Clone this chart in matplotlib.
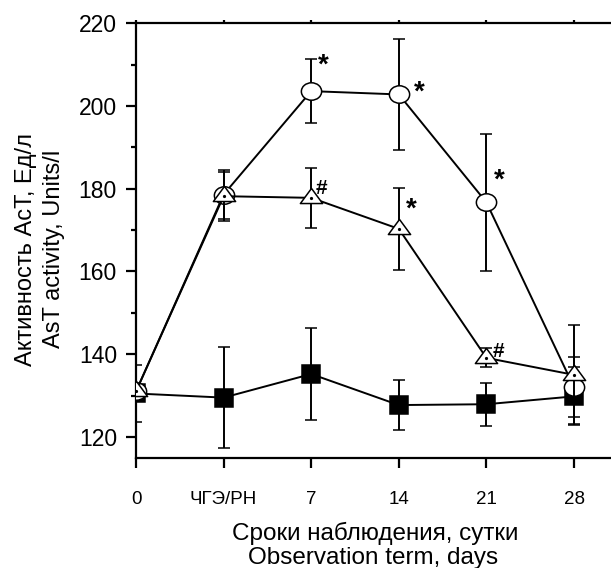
import matplotlib
matplotlib.use("Agg")
import matplotlib.pyplot as plt
import numpy as np
from matplotlib.path import Path
from matplotlib.ticker import MultipleLocator

plt.rcParams['font.family'] = ['Liberation Sans', 'DejaVu Sans']

# ---- data ----
categories = ['0', 'ЧГЭ/РН', '7', '14', '21', '28']
squares = [130.5, 129.5, 135.2, 127.7, 127.9, 129.8]
squares_err = [6.8, 12.2, 11.2, 6.0, 5.2, 7.0]
circles = [131.0, 178.6, 203.6, 202.8, 176.7, 132.0]
circles_err = [0.0, 5.9, 7.7, 13.4, 16.5, 7.3]
triangles = [131.0, 178.2, 177.8, 170.3, 139.1, 135.0]
triangles_err = [0.0, 5.9, 7.2, 10.0, 2.3, 12.0]
# significance marks: (series, index, symbol)
marks = [('c', 2, '*'), ('c', 3, '*'), ('c', 4, '*'),
         ('t', 2, '#'), ('t', 3, '*'), ('t', 4, '#')]

x = np.arange(len(categories))

fig = plt.figure(figsize=(6.11, 5.68), dpi=100)
W, H = 611, 568
ax = fig.add_axes([136 / W, (H - 458) / H, 1 - 136 / W, (458 - 23.3) / H])
ax.set_xlim(0, 5.422)
ax.set_ylim(114.9, 220)

# custom markers
uc = Path.unit_circle()
ellipse = Path(uc.vertices * np.array([1.0, 0.86]), uc.codes)
h = 1.36
tri = Path([(0, 2 * h / 3), (-1, -h / 3), (1, -h / 3), (0, 2 * h / 3)],
           [Path.MOVETO, Path.LINETO, Path.LINETO, Path.CLOSEPOLY])

lw = 1.4
common = dict(fmt='-', color='black', lw=lw, mec='black', mew=1.1,
              ecolor='black', elinewidth=lw, capsize=4.3, capthick=lw)
ax.errorbar(x, squares, yerr=squares_err, marker='s', ms=12.4, mfc='black',
            zorder=2, **common)
ax.errorbar(x, circles, yerr=circles_err, marker=ellipse, ms=14.6, mfc='white',
            zorder=3, **common)
ax.errorbar(x, triangles, yerr=triangles_err, marker=tri, ms=16.0, mfc='white',
            zorder=4, **common)
ax.plot(x, triangles, linestyle='none', marker='o', ms=1.3, color='black', zorder=5)

offsets = {('c', 2): (8.6, 13.5), ('c', 3): (15, -3.5), ('c', 4): (8.9, 10.5),
           ('t', 2): (7.2, 2.5), ('t', 3): (9.1, 9), ('t', 4): (9, 0.5)}
for s, i, sym in marks:
    yv = circles[i] if s == 'c' else triangles[i]
    dx, dy = offsets[(s, i)]
    ax.annotate(sym, xy=(x[i], yv), xytext=(dx, dy), textcoords='offset points',
                ha='center', va='baseline', fontsize=20 if sym == '*' else 15,
                fontweight='bold', zorder=6)

# spines and ticks
for sp in ['left', 'bottom', 'top']:
    ax.spines[sp].set_linewidth(1.6)
ax.spines['right'].set_visible(False)

ax.set_xticks(x)
ax.set_xticklabels(categories)
ax.set_yticks([120, 140, 160, 180, 200, 220])
ax.yaxis.set_minor_locator(MultipleLocator(10))
ax.tick_params(axis='y', which='major', direction='out', length=7.2, width=1.6,
               labelsize=16.5, pad=6.5)
ax.tick_params(axis='y', which='minor', direction='out', length=3.6, width=1.6)
ax.tick_params(axis='x', which='major', direction='out', length=7, width=1.6,
               labelsize=13.5, pad=16.5, top=True)
for t in ax.xaxis.get_major_ticks():
    t.tick2line.set_markersize(2.5)

# axis labels as figure text
fig.text(32 / W, 1 - 249 / H, 'Активность АсТ, Ед/л', rotation=90,
         rotation_mode='anchor', ha='center', va='baseline', fontsize=17)
fig.text(60 / W, 1 - 248.5 / H, 'AsT activity, Units/l', rotation=90,
         rotation_mode='anchor', ha='center', va='baseline', fontsize=17)
fig.text(375 / W, 1 - 540 / H, 'Сроки наблюдения, сутки',
         ha='center', va='baseline', fontsize=17.5)
fig.text(373.5 / W, 1 - 564 / H, 'Observation term, days',
         ha='center', va='baseline', fontsize=17.5)

fig.savefig('out.png', dpi=100)
